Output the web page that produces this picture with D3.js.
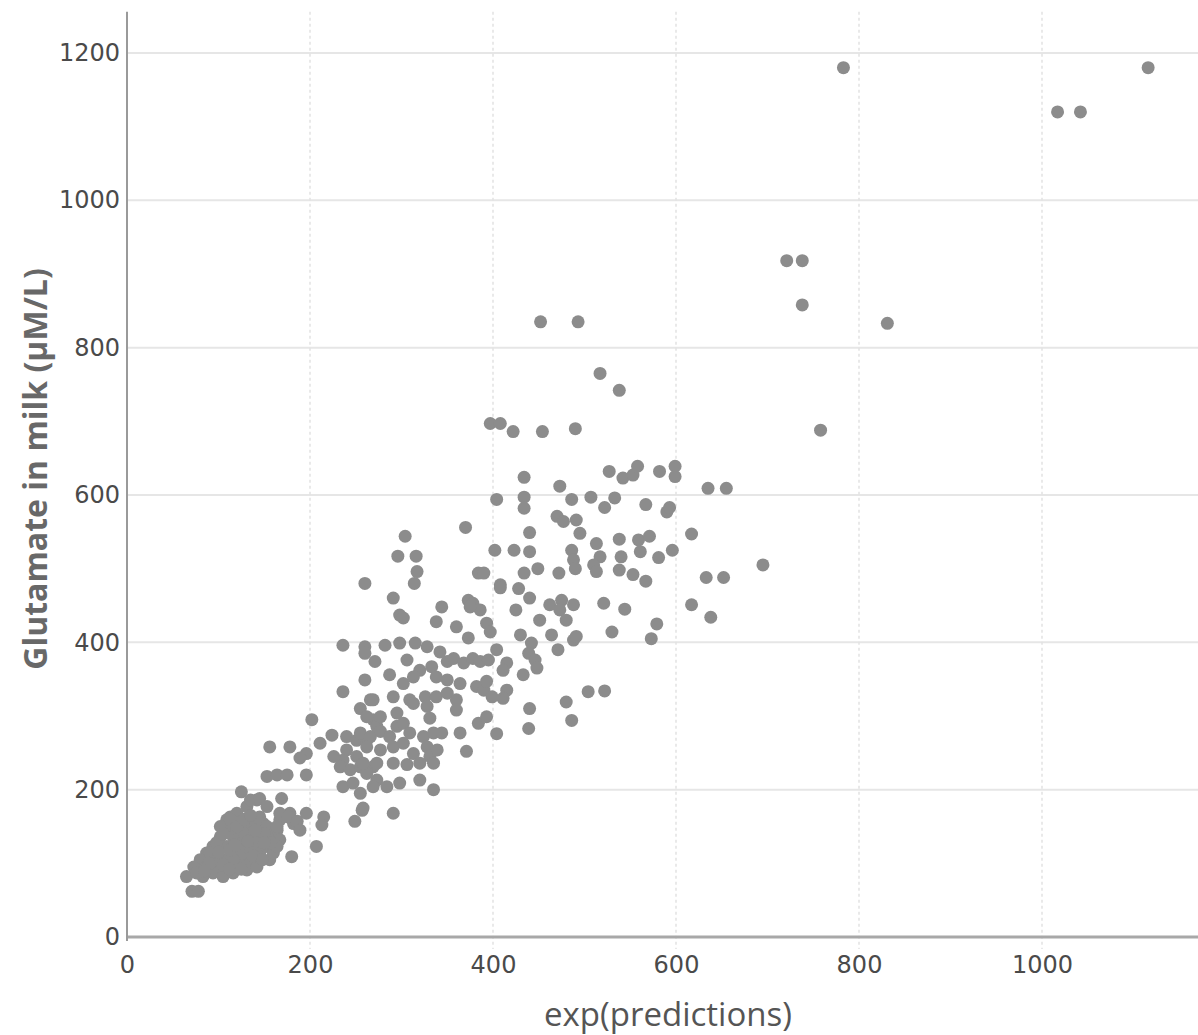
<!DOCTYPE html>
<html>
<head>
<meta charset="utf-8">
<script src="https://cdn.jsdelivr.net/npm/d3@7"></script>
<style>
  html, body { margin: 0; padding: 0; background: #fff; }
  svg { display: block; }
</style>
</head>
<body>
<div id="chart"></div>
<script>
// axis ticks
var xTicks = [0, 200, 400, 600, 800, 1000];
var yTicks = [0, 200, 400, 600, 800, 1000, 1200];

// [exp(predictions), glutamate], grouped by area

// dense blob near the origin
var lowBlob = [
  [109,159],[116,154],[124,145],[109,145],[102,136],[94,123],[87,114],[80,105],[73,95],[65,82],
  [71,62],[78,62],[116,136],[131,145],[138,154],[145,163],[153,145],[145,136],[131,123],[120,114],
  [109,105],[102,95],[94,87],[83,82],[124,100],[135,105],[145,114],[153,123],[160,136],[109,123],
  [98,109],[116,87],[131,91],[142,95],[156,105],[94,105],[87,95],[76,87],[105,82],[127,114],
  [138,127],[124,127],[113,163],[120,168],[131,177],[142,186],[102,150],[149,154],[164,145],[167,159],
  [91,114],[160,114],[116,105],[113,159],[127,150],[142,159],[153,150],[164,150],[131,136],[153,136],
  [178,168],[182,154],[207,123],[180,109],[167,132],[164,123],[98,128],[105,140],[112,118],[120,132],
  [128,140],[135,118],[142,130],[150,140],[157,128],[120,150],[128,160],[135,165],[105,98],[112,92],
  [125,92],[90,100],[100,115],[138,110],[148,105],[118,125],[132,130],[140,145],[150,128],[85,90]
];

// band between 150 and 300 on the x axis
var lowerBand = [
  [125,197],[135,186],[145,188],[153,177],[169,188],[167,168],[176,163],[186,157],[189,145],[196,168],
  [215,163],[213,152],[257,172],[249,157],[258,175],[291,168],[273,213],[284,204],[298,209],[320,213],
  [335,200],[153,218],[164,220],[175,220],[196,220],[156,258],[178,258],[196,249],[189,243],[211,263],
  [224,274],[202,295],[240,272],[251,267],[262,267],[240,254],[251,245],[236,240],[226,245],[233,231],
  [244,227],[255,231],[269,231],[262,222],[236,204],[247,209],[255,195],[269,204],[255,310],[266,322],
  [269,295],[273,286],[236,396],[236,333]
];

// central cloud
var midBand = [
  [338,428],[360,421],[373,406],[393,426],[397,414],[260,394],[282,396],[298,399],[315,399],[328,394],
  [260,385],[342,387],[350,374],[357,378],[368,372],[378,378],[386,374],[395,376],[404,390],[415,372],
  [411,362],[271,374],[306,376],[260,349],[287,356],[320,362],[333,367],[338,353],[350,349],[364,344],
  [382,340],[390,335],[393,347],[399,326],[415,335],[411,324],[302,344],[313,353],[269,322],[291,326],
  [309,322],[326,326],[328,313],[338,326],[350,331],[360,322],[360,308],[313,317],[262,299],[277,299],
  [295,304],[295,286],[302,290],[331,297],[384,290],[393,299],[255,277],[266,272],[277,279],[287,272],
  [309,277],[324,272],[335,277],[344,277],[364,277],[371,252],[262,258],[277,254],[291,258],[302,263],
  [313,249],[328,258],[331,245],[339,254],[258,236],[273,236],[291,236],[306,234],[320,236],[335,236],
  [404,276],[440,310],[439,283],[480,319],[486,294],[504,333],[522,334],[260,480]
];

// upper part of the cloud
var upperBand = [
  [304,544],[296,517],[316,517],[317,496],[314,480],[291,460],[298,437],[302,433],[344,448],[373,457],
  [378,453],[386,444],[375,448],[408,478],[408,474],[428,473],[440,460],[425,444],[384,494],[390,494],
  [434,494],[449,500],[472,494],[402,525],[423,525],[440,523],[486,525],[488,512],[490,500],[513,534],
  [517,516],[510,505],[513,496],[370,556],[440,549],[470,571],[477,564],[491,566],[495,548],[462,451],
  [475,457],[488,451],[473,444],[480,430],[451,430],[430,410],[464,410],[471,390],[488,403],[491,408],
  [442,399],[439,385],[446,376],[448,365],[433,356],[521,453],[544,445],[617,451],[638,434],[579,425],
  [530,414],[573,405],[540,516],[581,515],[596,525],[538,498],[553,492],[567,483],[633,488],[652,488],
  [617,547],[538,540],[559,539],[571,544],[561,523],[404,594],[434,597],[434,582],[486,594],[507,597],
  [533,596],[522,583],[567,587],[590,577],[593,583],[434,624],[473,612],[527,632],[542,623],[553,627],
  [558,639],[582,632],[599,639],[599,625],[635,609],[655,609],[397,697],[408,697],[422,686],[454,686],
  [490,690],[452,835],[493,835],[517,765],[538,742]
];

// sparse points far out
var outliers = [
  [695,505],[758,688],[831,833],[738,858],[721,918],[738,918],[783,1180],[1017,1120],[1042,1120],[1116,1180]
];

var points = lowBlob.concat(lowerBand, midBand, upperBand, outliers);

//
// setup
//
var width = 1198,
    height = 1035,
    margin = { top: 12, right: 0, bottom: 98, left: 127 };

var svg = d3.select("#chart")
    .append("svg")
    .attr("width", width)
    .attr("height", height);

var x = d3.scaleLinear()
    .domain([0, 1170])
    .range([margin.left, margin.left + 1170 * 0.915]);

var y = d3.scaleLinear()
    .domain([0, 1256])
    .range([937, 937 - 1256 * 0.7367]);

//
// grid
//
svg.append("g")
  .selectAll("line")
  .data(yTicks.slice(1))
  .enter()
  .append("line")
  .attr("x1", x(0))
  .attr("x2", width)
  .attr("y1", function(d) { return y(d); })
  .attr("y2", function(d) { return y(d); })
  .style("stroke", "#e6e6e6")
  .style("stroke-width", 2);

svg.append("g")
  .selectAll("line")
  .data(xTicks.slice(1))
  .enter()
  .append("line")
  .attr("x1", function(d) { return x(d); })
  .attr("x2", function(d) { return x(d); })
  .attr("y1", y(1256))
  .attr("y2", y(0) + 12)
  .style("stroke", "#e2e2e2")
  .style("stroke-width", 1.5)
  .style("stroke-dasharray", "3,3");

//
// axes
//
var fmt = d3.format("d");

var xAxis = svg.append("g")
    .attr("transform", "translate(0," + y(0) + ")")
    .call(d3.axisBottom(x).tickValues(xTicks).tickFormat(fmt).tickSize(0).tickPadding(19));

var yAxis = svg.append("g")
    .attr("transform", "translate(" + x(0) + ",0)")
    .call(d3.axisLeft(y).tickValues(yTicks).tickFormat(fmt).tickSize(0).tickPadding(7));

xAxis.select(".domain").remove();
yAxis.select(".domain").remove();

[xAxis, yAxis].forEach(function(a) {
  a.selectAll("text")
    .style("font-family", "'DejaVu Sans', Verdana, sans-serif")
    .style("font-size", "24px")
    .style("fill", "#4a4a4a");
});

svg.append("line")
  .attr("x1", x(0)).attr("x2", width)
  .attr("y1", y(0)).attr("y2", y(0))
  .style("stroke", "#a8a8a8")
  .style("stroke-width", 3);

svg.append("line")
  .attr("x1", x(0)).attr("x2", x(0))
  .attr("y1", y(1256)).attr("y2", y(0) + 4)
  .style("stroke", "#9a9a9a")
  .style("stroke-width", 2);

//
// points
//
svg.append("g")
  .selectAll("circle")
  .data(points)
  .enter()
  .append("circle")
  .attr("cx", function(d) { return x(d[0]); })
  .attr("cy", function(d) { return y(d[1]); })
  .attr("r", 6.5)
  .style("fill", "#8c8c8c");

//
// titles
//
svg.append("text")
  .attr("transform", "translate(47," + 469 + ") rotate(-90)")
  .attr("text-anchor", "middle")
  .style("font-family", "'Open Sans', sans-serif")
  .style("font-weight", 700)
  .style("font-size", "32px")
  .style("fill", "#686868")
  .text("Glutamate in milk (µM/L)");

svg.append("text")
  .attr("x", 668)
  .attr("y", 1026)
  .attr("text-anchor", "middle")
  .style("font-family", "'Open Sans', sans-serif")
  .style("font-size", "33px")
  .style("fill", "#555")
  .text("exp(predictions)");
</script>
</body>
</html>
